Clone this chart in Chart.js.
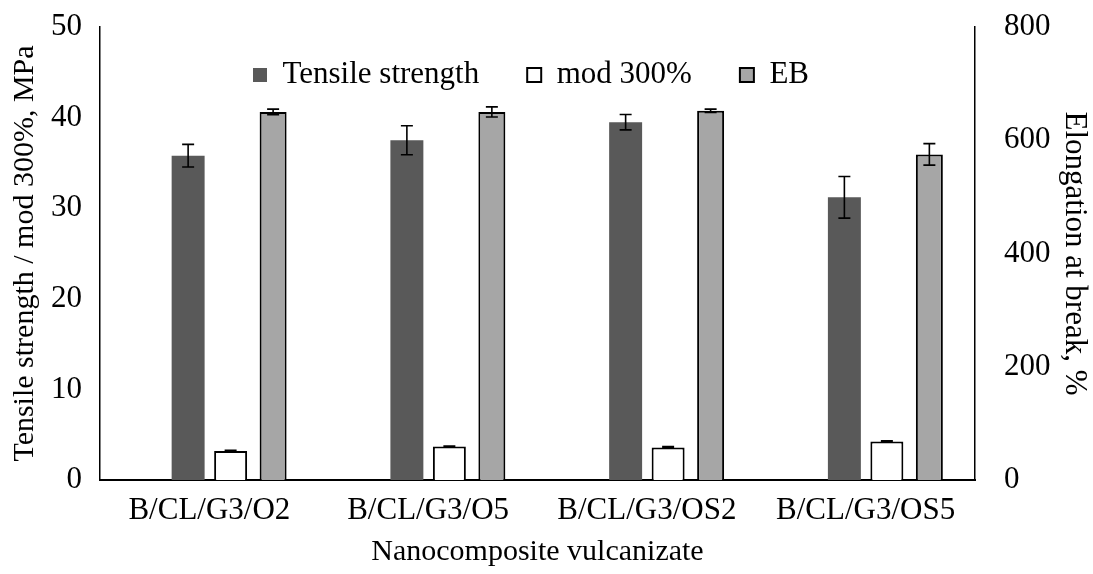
<!DOCTYPE html>
<html>
<head>
<meta charset="utf-8">
<script src="https://cdn.jsdelivr.net/npm/chart.js@4/dist/chart.umd.min.js"></script>
<style>
  html, body { margin: 0; padding: 0; background: #fff; }
  #wrap { width: 1093px; height: 574px; }
</style>
</head>
<body>
<div id="wrap"><canvas id="chart" width="1093" height="574"></canvas></div>
<script>
// Mechanical properties of the nanocomposite vulcanizates
const categories = ['B/CL/G3/O2', 'B/CL/G3/O5', 'B/CL/G3/OS2', 'B/CL/G3/OS5'];

const tensileStrength = [35.8, 37.5, 39.5, 31.2];   // MPa
const tensileErr      = [1.25, 1.6, 0.85, 2.3];

const mod300          = [3.2, 3.7, 3.6, 4.25];      // MPa
const mod300Err       = [0.08, 0.05, 0.08, 0.08];

const elongation      = [650, 650, 652, 575];       // %
const elongationErr   = [5, 9, 3, 19];

const leftTicks  = [0, 10, 20, 30, 40, 50];
const rightTicks = [0, 200, 400, 600, 800];

const FONT = 'Liberation Serif';
const TICK_SIZE = 31;
const TITLE_SIZE = 30;

// whiskers drawn from each dataset's error array
const errorBars = {
  id: 'errorBars',
  afterDatasetsDraw(chart) {
    const ctx = chart.ctx;
    chart.data.datasets.forEach((ds, di) => {
      if (!ds.errors) return;
      const meta = chart.getDatasetMeta(di);
      const yScale = chart.scales[ds.yAxisID];
      ctx.save();
      ctx.strokeStyle = '#000';
      ctx.lineWidth = 1.6;
      meta.data.forEach((bar, i) => {
        const v = ds.data[i];
        if (v == null) return;
        const e = ds.errors[i];
        const x = bar.x;
        const yT = yScale.getPixelForValue(v + e);
        const yB = yScale.getPixelForValue(v - e);
        const cap = 6;
        ctx.beginPath();
        ctx.moveTo(x, yT); ctx.lineTo(x, yB);
        ctx.moveTo(x - cap, yT); ctx.lineTo(x + cap, yT);
        ctx.moveTo(x - cap, yB); ctx.lineTo(x + cap, yB);
        ctx.stroke();
      });
      ctx.restore();
    });
  }
};

// keep the in-plot legend as a single row near the top of the plot
const legendRow = {
  id: 'legendRow',
  beforeLayout(chart) {
    if (chart.legend) chart.legend.isHorizontal = () => true;
  },
  afterLayout(chart) {
    const lg = chart.legend;
    if (!lg) return;
    const w = lg.width, h = lg.height;
    lg.left = 205; lg.right = lg.left + w;
    lg.top = 11.5; lg.bottom = lg.top + h;
  }
};

// plot frame is fixed, so tick-label overhang must not shrink it
function noOverhang(s) {
  s.paddingTop = 0; s.paddingBottom = 0; s.paddingLeft = 0; s.paddingRight = 0;
}

new Chart(document.getElementById('chart'), {
  type: 'bar',
  data: {
    labels: categories,
    datasets: [
      { label: '', data: categories.map(() => null), yAxisID: 'y', backgroundColor: 'rgba(0,0,0,0)' },
      { label: 'Tensile strength', data: tensileStrength, errors: tensileErr, yAxisID: 'y',
        backgroundColor: '#595959', borderColor: '#595959', borderWidth: 0, barPercentage: 0.776 },
      { label: 'mod 300%', data: mod300, errors: mod300Err, yAxisID: 'y',
        backgroundColor: '#ffffff', borderColor: '#000000', borderWidth: 2, barPercentage: 0.776 },
      { label: 'EB', data: elongation, errors: elongationErr, yAxisID: 'y1',
        backgroundColor: '#a6a6a6', borderColor: '#000000', borderWidth: 2, barPercentage: 0.635 }
    ]
  },
  options: {
    responsive: false,
    animation: false,
    devicePixelRatio: 1,
    layout: { padding: { top: 27, left: 0, right: 0, bottom: 0 } },
    datasets: { bar: { categoryPercentage: 0.777 } },
    plugins: {
      tooltip: { enabled: false },
      legend: {
        position: 'chartArea',
        align: 'start',
        labels: {
          font: { family: FONT, size: TICK_SIZE },
          color: '#000',
          boxWidth: 14,
          boxHeight: 14,
          padding: 48,
          filter: item => item.text !== ''
        }
      }
    },
    scales: {
      x: {
        grid: { display: false, drawTicks: false },
        border: { display: true, color: '#000', width: 2 },
        ticks: { font: { family: FONT, size: TICK_SIZE }, color: '#000', padding: 12, maxRotation: 0 },
        title: { display: true, text: 'Nanocomposite vulcanizate', font: { family: FONT, size: TITLE_SIZE }, color: '#000', padding: { top: 0 } },
        afterFit(s) { s.height = 94; noOverhang(s); }
      },
      y: {
        position: 'left',
        min: 0, max: 50,
        afterBuildTicks(s) { s.ticks = leftTicks.map(v => ({ value: v })); },
        grid: { display: false, drawOnChartArea: false, drawTicks: true, tickLength: 7, tickColor: '#000', tickWidth: 1.5 },
        border: { display: true, color: '#000', width: 1.5 },
        ticks: { font: { family: FONT, size: TICK_SIZE }, color: '#000', padding: 11 },
        title: { display: true, text: 'Tensile strength / mod 300%, MPa', font: { family: FONT, size: TITLE_SIZE }, color: '#000', padding: { top: 7, bottom: 0 } },
        afterFit(s) { s.width = 100; noOverhang(s); }
      },
      y1: {
        position: 'right',
        min: 0, max: 800,
        afterBuildTicks(s) { s.ticks = rightTicks.map(v => ({ value: v })); },
        grid: { display: false, drawOnChartArea: false, drawTicks: true, tickLength: 7, tickColor: '#000', tickWidth: 1.5 },
        border: { display: true, color: '#000', width: 1.5 },
        ticks: { font: { family: FONT, size: TICK_SIZE }, color: '#000', padding: 22 },
        title: { display: true, text: 'Elongation at break, %', font: { family: FONT, size: 31 }, color: '#000', padding: 0 },
        afterFit(s) { s.width = 118; noOverhang(s); }
      }
    }
  },
  plugins: [errorBars, legendRow]
});
</script>
</body>
</html>
